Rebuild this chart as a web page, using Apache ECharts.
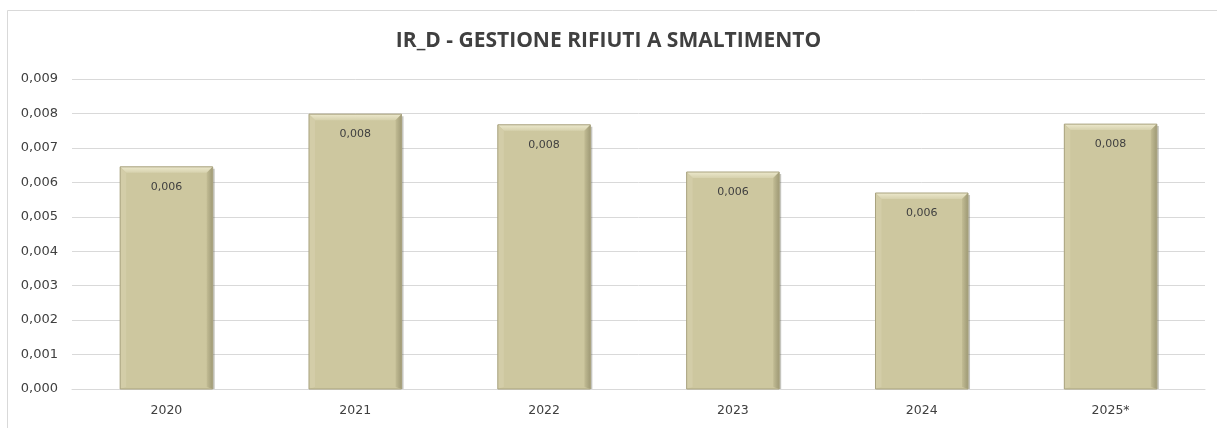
<!DOCTYPE html>
<html>
<head>
<meta charset="utf-8">
<script src="https://cdn.jsdelivr.net/npm/echarts@6/dist/echarts.min.js"></script>
<style>
html,body{margin:0;padding:0;background:#fff;}
#c{width:1217px;height:428px;}
</style>
</head>
<body>
<div id="c"></div>
<script>
const categories = ['2020', '2021', '2022', '2023', '2024', '2025*'];
const values = [0.00645, 0.00798, 0.00767, 0.00630, 0.00569, 0.00769];
const yTicks = { min: 0, max: 0.009, interval: 0.001 };
const titleText = 'IR_D - GESTIONE RIFIUTI A SMALTIMENTO';

const fmt = v => v.toFixed(3).replace('.', ',');

const chart = echarts.init(document.getElementById('c'), null, { renderer: 'canvas' });

function renderBar(params, api) {
  const idx = api.value(0);
  const val = api.value(1);
  const top = api.coord([idx, val]);
  const bot = api.coord([idx, 0]);
  const bw = api.size([1, 0])[0] * 0.49;
  const x0 = top[0] - bw / 2, x1 = top[0] + bw / 2;
  const y0 = top[1], y1 = bot[1];
  const b = 6;
  return {
    type: 'group',
    children: [
      { type: 'rect', shape: { x: x0 + 2, y: y0 + 2, width: bw, height: y1 - y0 - 2 },
        style: { fill: 'rgba(90,90,70,0.35)' } },
      { type: 'rect', shape: { x: x0, y: y0, width: bw, height: y1 - y0 },
        style: { fill: '#cdc79f' } },
      { type: 'polygon', shape: { points: [[x0, y0], [x1, y0], [x1 - b, y0 + b], [x0 + b, y0 + b]] },
        style: { fill: new echarts.graphic.LinearGradient(0, 0, 0, 1, [{ offset: 0, color: '#ece8cc' }, { offset: 1, color: '#d6d1ad' }]) } },
      { type: 'polygon', shape: { points: [[x0, y0], [x0 + b, y0 + b], [x0 + b, y1 - 2], [x0, y1]] },
        style: { fill: '#d3cda8' } },
      { type: 'polygon', shape: { points: [[x1, y0], [x1 - b, y0 + b], [x1 - b, y1 - 2], [x1, y1]] },
        style: { fill: new echarts.graphic.LinearGradient(0, 0, 1, 0, [{ offset: 0, color: '#c2bc94' }, { offset: 1, color: '#9f9a76' }]) } },
      { type: 'rect', shape: { x: x0, y: y0, width: bw, height: y1 - y0 },
        style: { fill: 'none', stroke: '#a8a27f', lineWidth: 1 } },
      { type: 'text', x: top[0], y: y0 + 20,
        style: { text: fmt(val), fill: '#404040', font: '11px "DejaVu Sans", sans-serif', align: 'center', verticalAlign: 'middle' } }
    ]
  };
}

chart.setOption({
  backgroundColor: '#ffffff',
  animation: false,
  title: {
    text: titleText,
    left: 'center',
    top: 26,
    textStyle: { fontFamily: 'Open Sans', fontWeight: 700, fontSize: 21, color: '#404040' }
  },
  graphic: [
    { type: 'rect', shape: { x: 7.5, y: 10.5, width: 1220, height: 430 },
      style: { fill: 'none', stroke: '#d9d9d9', lineWidth: 1 }, silent: true, z: -1 }
  ],
  grid: { left: 72, right: 12, top: 79, bottom: 39 },
  xAxis: {
    type: 'category',
    data: categories,
    axisLine: { lineStyle: { color: '#d9d9d9' } },
    axisTick: { show: false },
    axisLabel: { color: '#404040', fontFamily: 'DejaVu Sans', fontSize: 12.5, margin: 15 }
  },
  yAxis: {
    type: 'value',
    min: yTicks.min, max: yTicks.max, interval: yTicks.interval,
    axisLine: { show: false },
    axisTick: { show: false },
    splitLine: { lineStyle: { color: '#d9d9d9' } },
    axisLabel: { color: '#404040', fontFamily: 'DejaVu Sans', fontSize: 13, margin: 14, formatter: v => fmt(v) }
  },
  series: [{
    type: 'custom',
    renderItem: renderBar,
    encode: { x: 0, y: 1 },
    data: values.map((v, i) => [i, v])
  }]
});
</script>
</body>
</html>
